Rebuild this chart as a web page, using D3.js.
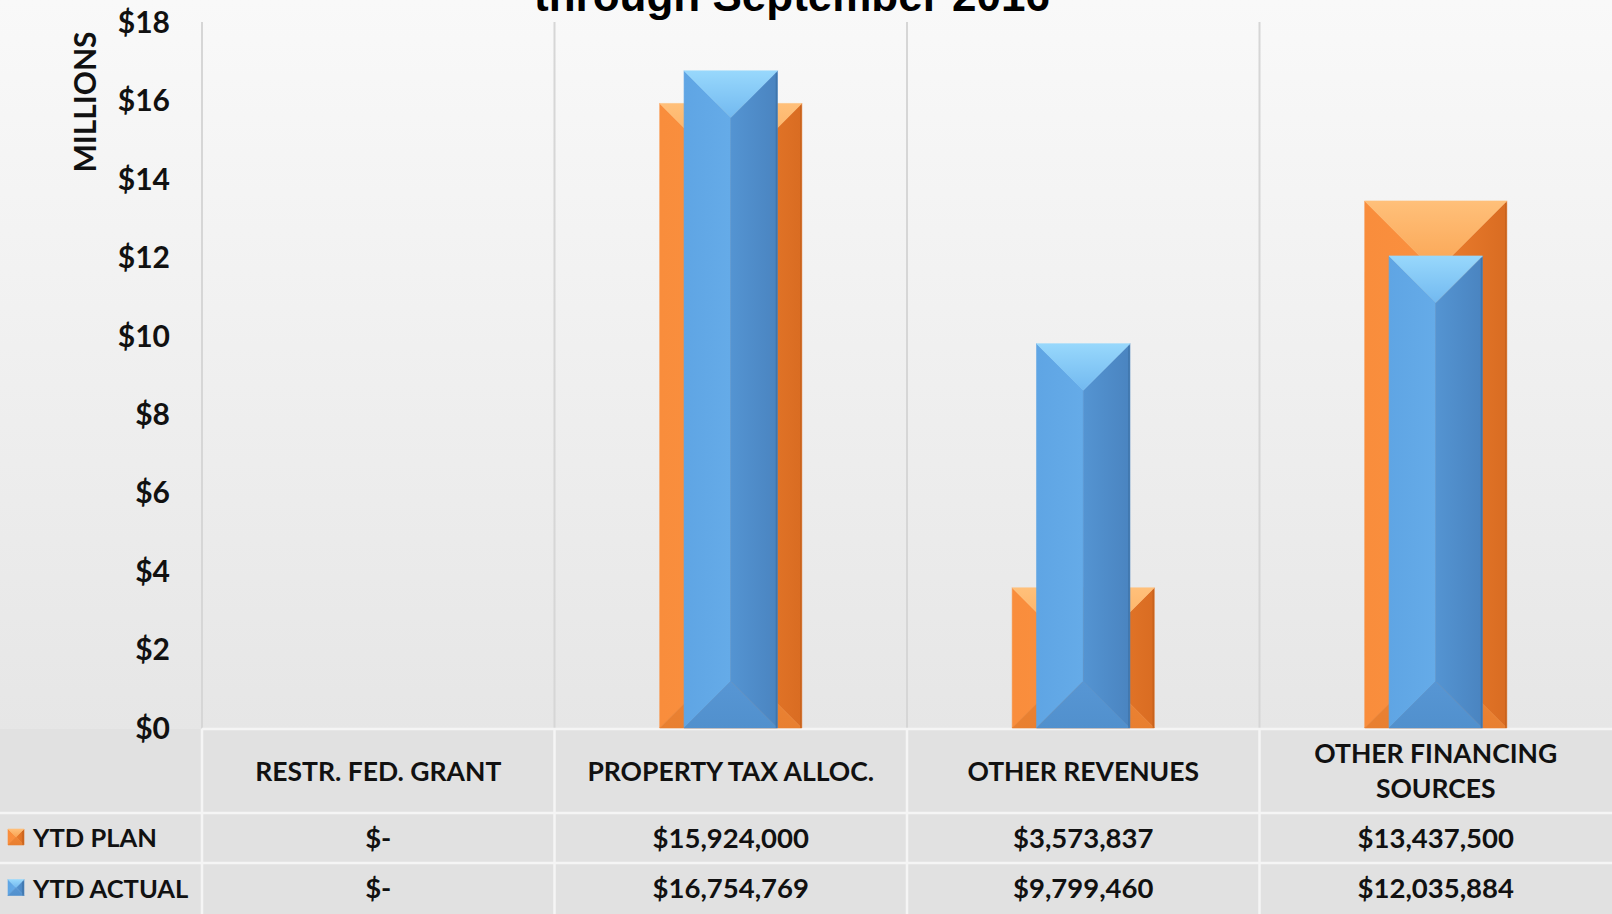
<!DOCTYPE html>
<html>
<head>
<meta charset="utf-8">
<script src="https://cdn.jsdelivr.net/npm/d3@7"></script>
<style>
  html, body { margin: 0; padding: 0; overflow: hidden; background: #f4f4f4; }
  svg { display: block; }
</style>
</head>
<body>
<svg id="chart"></svg>
<script>
// chart data
const categories = ["RESTR. FED. GRANT", "PROPERTY TAX ALLOC.", "OTHER REVENUES", "OTHER FINANCING SOURCES"];
const seriesNames = ["YTD PLAN", "YTD ACTUAL"];
const planValues = [0, 15924000, 3573837, 13437500];
const actualValues = [0, 16754769, 9799460, 12035884];
const yTicks = [0, 2, 4, 6, 8, 10, 12, 14, 16, 18];
const titleText = "through September 2016";
const yAxisTitle = "MILLIONS";

const width = 1612, height = 914;
const font = "Lato, 'Open Sans', sans-serif";

const svg = d3.select("#chart").attr("width", width).attr("height", height);
const defs = svg.append("defs");

// background gradient
const bg = defs.append("linearGradient").attr("id", "bg")
  .attr("x1", 0).attr("y1", 0).attr("x2", 0).attr("y2", 1);
bg.append("stop").attr("offset", "0%").attr("stop-color", "#f9f9f9");
bg.append("stop").attr("offset", "80%").attr("stop-color", "#e6e6e6");
bg.append("stop").attr("offset", "100%").attr("stop-color", "#dedede");
svg.append("rect").attr("width", width).attr("height", height).attr("fill", "url(#bg)");

// scales
const plotTop = 22, plotBottom = 728, plotLeft = 202, plotRight = 1612;
const x = d3.scaleBand().domain(categories).range([plotLeft, plotRight]).padding(0);
const y = d3.scaleLinear().domain([0, 18]).range([plotBottom, plotTop]);

// row boundaries for the data table
const rowCat = [729, 813], rowPlan = [813, 863], rowActual = [863, 914];

// table background
svg.append("rect").attr("x", 0).attr("y", rowCat[0]).attr("width", width).attr("height", height - rowCat[0])
  .attr("fill", "#e1e1e1");

// vertical grid lines (category separators)
const bounds = categories.map(c => x(c));
svg.append("g").selectAll("line").data(bounds).join("line")
  .attr("x1", d => d).attr("x2", d => d)
  .attr("y1", plotTop).attr("y2", plotBottom)
  .attr("stroke", "#d6d6d6").attr("stroke-width", 2);

// table lines
const tl = svg.append("g").attr("stroke", "#f5f5f5").attr("stroke-width", 2.5);
tl.append("line").attr("x1", plotLeft).attr("x2", width).attr("y1", rowCat[0]).attr("y2", rowCat[0]);
[rowPlan[0], rowActual[0]].forEach(v => {
  tl.append("line").attr("x1", 0).attr("x2", width).attr("y1", v).attr("y2", v);
});
tl.selectAll("line.v").data(bounds).join("line").attr("class", "v")
  .attr("x1", d => d).attr("x2", d => d).attr("y1", rowCat[0]).attr("y2", height);

// gradients for bevelled bars
function grad(id, stops, horiz) {
  const g = defs.append("linearGradient").attr("id", id)
    .attr("x1", 0).attr("y1", 0).attr("x2", horiz ? 1 : 0).attr("y2", horiz ? 0 : 1);
  stops.forEach((c, i) => g.append("stop").attr("offset", (i / (stops.length - 1) * 100) + "%").attr("stop-color", c));
}
const palettes = {
  plan: { top: ["#ffc07a", "#faa452"], left: ["#f98d3c", "#fa903f"], mid: ["#f98d3c", "#f08535"],
          right: ["#ec7e2e", "#d96c22"], bottom: ["#ef8535", "#e87f30"] },
  actual: { top: ["#98d8fc", "#72b9f0"], left: ["#5fa5e4", "#65abe8"], mid: ["#64a9e7", "#5a9cdb"],
            right: ["#5494d2", "#4a84c0"], bottom: ["#5796d4", "#5190cd"] }
};
Object.entries(palettes).forEach(([k, p]) => {
  grad(k + "-top", p.top, false);
  grad(k + "-left", p.left, true);
  grad(k + "-mid", p.mid, true);
  grad(k + "-right", p.right, true);
  grad(k + "-bottom", p.bottom, false);
});

function bevelBar(g, bx, by, bw, bh, key) {
  if (bh <= 0) return;
  const d = Math.min(bw / 2, bh / 2);
  const faces = [
    ["mid", [[bx + d, by + d], [bx + bw - d, by + d], [bx + bw - d, by + bh - d], [bx + d, by + bh - d]]],
    ["left", [[bx, by], [bx + d, by + d], [bx + d, by + bh - d], [bx, by + bh]]],
    ["right", [[bx + bw, by], [bx + bw - d, by + d], [bx + bw - d, by + bh - d], [bx + bw, by + bh]]],
    ["bottom", [[bx, by + bh], [bx + bw, by + bh], [bx + bw - d, by + bh - d], [bx + d, by + bh - d]]],
    ["top", [[bx, by], [bx + bw, by], [bx + bw - d, by + d], [bx + d, by + d]]]
  ];
  faces.forEach(([f, pts]) => {
    g.append("polygon").attr("points", pts.map(p => p.join(",")).join(" "))
      .attr("fill", `url(#${key}-${f})`).attr("stroke", `url(#${key}-${f})`).attr("stroke-width", 0.6);
  });
  // thin dark edge on the right side
  g.append("line").attr("x1", bx + bw - 1).attr("x2", bx + bw - 1).attr("y1", by + 2).attr("y2", by + bh)
    .attr("stroke", key === "plan" ? "#c2601c" : "#3b6fa3").attr("stroke-width", 1.5).attr("opacity", 0.7);
}

const planW = x.bandwidth() * 0.403, actualW = x.bandwidth() * 0.265;
const bars = svg.append("g");
categories.forEach((c, i) => {
  const cx = x(c) + x.bandwidth() / 2;
  const pv = planValues[i] / 1e6, av = actualValues[i] / 1e6;
  bevelBar(bars.append("g"), cx - planW / 2, y(pv), planW, y(0) - y(pv), "plan");
  bevelBar(bars.append("g"), cx - actualW / 2, y(av), actualW, y(0) - y(av), "actual");
});

// y axis labels
svg.append("g").selectAll("text").data(yTicks).join("text")
  .attr("x", 170).attr("y", d => y(d)).attr("dy", "0.36em")
  .attr("text-anchor", "end")
  .attr("font-family", font).attr("font-weight", 700).attr("font-size", 30).attr("fill", "#111")
  .text(d => "$" + d);

svg.append("text")
  .attr("transform", "translate(96,102) rotate(-90)")
  .attr("text-anchor", "middle")
  .attr("font-family", font).attr("font-weight", 700).attr("font-size", 30).attr("fill", "#111")
  .text(yAxisTitle);

// title (partly cut off at top)
svg.append("text").attr("x", 792).attr("y", 11).attr("text-anchor", "middle")
  .attr("font-family", "'Liberation Sans', Arial, sans-serif").attr("font-weight", 700)
  .attr("font-size", 44).attr("fill", "#000").text(titleText);

// category labels with wrapping
const catG = svg.append("g");
categories.forEach(c => {
  const cx = x(c) + x.bandwidth() / 2;
  const t = catG.append("text").attr("text-anchor", "middle")
    .attr("font-family", font).attr("font-weight", 700).attr("font-size", 26.5).attr("fill", "#111");
  const words = c.split(" ");
  let lines = [], line = [];
  const probe = t.append("tspan");
  words.forEach(w => {
    line.push(w);
    probe.text(line.join(" "));
    if (probe.node().getComputedTextLength() > x.bandwidth() - 50 && line.length > 1) {
      line.pop();
      lines.push(line.join(" "));
      line = [w];
    }
  });
  lines.push(line.join(" "));
  probe.remove();
  const lh = 35;
  const midY = (rowCat[0] + rowCat[1]) / 2;
  lines.forEach((l, j) => {
    t.append("tspan").attr("x", cx)
      .attr("y", midY + (j - (lines.length - 1) / 2) * lh).attr("dy", "0.36em").text(l);
  });
});

// table values
const fmt = v => v === 0 ? "$-" : "$" + d3.format(",")(v);
[[planValues, rowPlan], [actualValues, rowActual]].forEach(([vals, row]) => {
  svg.append("g").selectAll("text").data(vals).join("text")
    .attr("x", (d, i) => x(categories[i]) + x.bandwidth() / 2)
    .attr("y", (row[0] + row[1]) / 2).attr("dy", "0.36em")
    .attr("text-anchor", "middle")
    .attr("font-family", font).attr("font-weight", 700).attr("font-size", 27.5).attr("fill", "#111")
    .text(fmt);
});

// legend keys in the table
const keys = ["plan", "actual"];
seriesNames.forEach((s, i) => {
  const row = i === 0 ? rowPlan : rowActual;
  const cy = (row[0] + row[1]) / 2 - 1;
  bevelBar(svg.append("g"), 8, cy - 8, 16, 16, keys[i]);
  svg.append("text").attr("x", 33).attr("y", cy + 1).attr("dy", "0.36em")
    .attr("font-family", font).attr("font-weight", 700).attr("font-size", 25.5).attr("fill", "#111")
    .text(s);
});
</script>
</body>
</html>
